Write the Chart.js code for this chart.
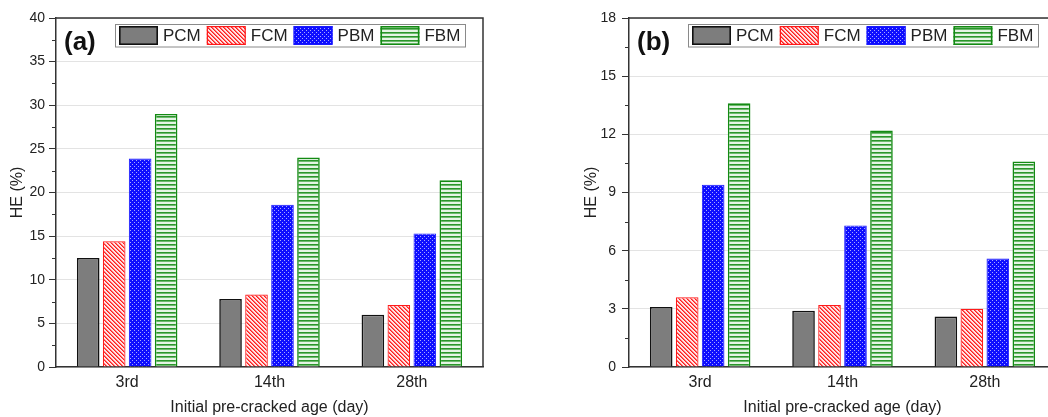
<!DOCTYPE html>
<html>
<head>
<meta charset="utf-8">
<script src="https://cdn.jsdelivr.net/npm/chart.js@4/dist/chart.umd.min.js"></script>
<style>
  html, body { margin: 0; padding: 0; background: #fff; overflow: hidden; width: 1048px; height: 417px; }
  .panel { position: absolute; top: 0; width: 500px; height: 417px; }
  #pa { left: 0; }
  #pb { left: 560px; }
</style>
</head>
<body>
<div class="panel" id="pa"><canvas id="ca" width="500" height="417"></canvas></div>
<div class="panel" id="pb"><canvas id="cb" width="500" height="417"></canvas></div>
<script>
// Categories and series
const ages = ['3rd', '14th', '28th'];
const seriesNames = ['PCM', 'FCM', 'PBM', 'FBM'];

// Panel (a) HE values (%)
const pcmA = [12.5, 7.8, 6.0];
const fcmA = [14.4, 8.3, 7.1];
const pbmA = [23.9, 18.6, 15.3];
const fbmA = [29.0, 24.0, 21.4];

// Panel (b) HE values (%)
const pcmB = [3.1, 2.9, 2.6];
const fcmB = [3.6, 3.2, 3.0];
const pbmB = [9.4, 7.3, 5.6];
const fbmB = [13.6, 12.2, 10.6];

// Axis ranges
const yMaxA = 40, yStepA = 5;
const yMaxB = 18, yStepB = 3;

const FONT = '"Liberation Sans", Arial, Helvetica, sans-serif';
const TEXT = '#222';

// Fill patterns for the hatched bars
function makePattern(w, h, paint) {
  const c = document.createElement('canvas');
  c.width = w; c.height = h;
  const g = c.getContext('2d');
  paint(g);
  return g.createPattern(c, 'repeat');
}
const redStripes = makePattern(4, 4, g => {
  g.fillStyle = '#ffe4e4'; g.fillRect(0, 0, 4, 4);
  for (let i = 0; i < 4; i++) {
    g.fillStyle = '#ff1e1e'; g.fillRect(i, i, 1, 1);
    g.fillStyle = '#ff6a6a'; g.fillRect((i + 1) % 4, i, 1, 1);
  }
});
const blueDots = makePattern(4, 4, g => {
  g.fillStyle = '#0e0eff'; g.fillRect(0, 0, 4, 4);
  g.fillStyle = '#a8a8ff';
  g.fillRect(0, 0, 1, 1); g.fillRect(2, 2, 1, 1);
});
const greenLines = makePattern(4, 4, g => {
  g.fillStyle = '#e4f4e4'; g.fillRect(0, 0, 4, 4);
  g.fillStyle = '#2a952a'; g.fillRect(0, 0, 4, 1);
  g.fillStyle = '#6cba6c'; g.fillRect(0, 1, 4, 1);
});

const styles = [
  { fill: '#7d7d7d', border: '#111111', width: 1.6 },
  { fill: redStripes, border: '#ff1a1a', width: 1.2 },
  { fill: blueDots, border: '#1a1aff', width: 1 },
  { fill: greenLines, border: '#138a13', width: 1.6 }
];

// Frame, minor ticks, boxed legend and panel letter
const decor = {
  id: 'panelDecor',
  afterDraw(chart, args, opts) {
    const ctx = chart.ctx;
    const a = chart.chartArea;
    const y = chart.scales.y;
    ctx.save();
    // top and right frame lines
    ctx.strokeStyle = '#333';
    ctx.lineWidth = 1.5;
    ctx.beginPath();
    ctx.moveTo(a.left, a.top);
    ctx.lineTo(a.right, a.top);
    ctx.lineTo(a.right, a.bottom);
    ctx.stroke();
    // minor ticks on the value axis
    ctx.lineWidth = 1;
    ctx.beginPath();
    for (let v = opts.minorStep; v < y.max; v += opts.minorStep * 2) {
      const py = Math.round(y.getPixelForValue(v)) + 0.5;
      ctx.moveTo(a.left - 4, py);
      ctx.lineTo(a.left, py);
    }
    ctx.stroke();
    // panel letter
    ctx.fillStyle = '#111';
    ctx.font = 'bold 26px ' + FONT;
    ctx.textBaseline = 'alphabetic';
    ctx.textAlign = 'left';
    ctx.fillText(opts.label, a.left + 8, 50);
    // legend box
    const bx = a.left + 59, by = 24, bw = 350, bh = 22.5;
    ctx.fillStyle = '#fff';
    ctx.fillRect(bx, by, bw, bh);
    ctx.strokeStyle = '#8a8a8a';
    ctx.lineWidth = 1;
    ctx.strokeRect(bx + 0.5, by + 0.5, bw, bh);
    ctx.font = '17px ' + FONT;
    ctx.textBaseline = 'middle';
    let cx = bx + 4;
    chart.data.datasets.forEach(ds => {
      ctx.fillStyle = ds.backgroundColor;
      ctx.fillRect(cx, by + 2, 39, 19);
      ctx.strokeStyle = ds.borderColor;
      ctx.lineWidth = ds.borderWidth;
      ctx.strokeRect(cx + ds.borderWidth / 2, by + 2 + ds.borderWidth / 2, 39 - ds.borderWidth, 19 - ds.borderWidth);
      cx += 44;
      ctx.fillStyle = TEXT;
      ctx.fillText(ds.label, cx, by + bh / 2 + 1);
      cx += ctx.measureText(ds.label).width + 6;
    });
    ctx.restore();
  }
};

function buildChart(id, series, yMax, yStep, axisWidth, labelPad, titlePad, padRight, letter) {
  return new Chart(document.getElementById(id), {
    type: 'bar',
    data: {
      labels: ages,
      datasets: seriesNames.map((name, i) => ({
        label: name,
        data: series[i],
        backgroundColor: styles[i].fill,
        borderColor: styles[i].border,
        borderWidth: styles[i].width,
        categoryPercentage: 0.73,
        barPercentage: 0.87
      }))
    },
    options: {
      responsive: false,
      animation: false,
      devicePixelRatio: 1,
      layout: { padding: { top: 18, right: padRight, bottom: 0, left: 0 } },
      plugins: {
        legend: { display: false },
        tooltip: { enabled: false },
        panelDecor: { label: letter, minorStep: yStep / 2 }
      },
      scales: {
        x: {
          grid: { display: false, drawTicks: false },
          border: { display: true, color: '#333', width: 1.5 },
          ticks: { padding: 6, color: TEXT, font: { size: 16, family: FONT } },
          title: { display: true, text: 'Initial pre-cracked age (day)', color: TEXT,
                   font: { size: 16, family: FONT }, padding: { top: 0, bottom: 0 } },
          afterFit: s => { s.height = 50; }
        },
        y: {
          min: 0,
          max: yMax,
          ticks: { stepSize: yStep, padding: labelPad, color: TEXT, font: { size: 14, family: FONT } },
          grid: { color: '#e3e3e3', tickColor: '#333', tickLength: 7, lineWidth: 1 },
          border: { color: '#333', width: 1.5 },
          title: { display: true, text: 'HE (%)', color: TEXT,
                   font: { size: 16, family: FONT }, padding: { top: titlePad, bottom: 0 } },
          afterFit: s => { s.width = axisWidth; }
        }
      }
    },
    plugins: [decor]
  });
}

buildChart('ca', [pcmA, fcmA, pbmA, fbmA], yMaxA, yStepA, 56, 4, 8, 17, '(a)');
buildChart('cb', [pcmB, fcmB, pbmB, fbmB], yMaxB, yStepB, 69, 6, 22, 4, '(b)');
</script>
</body>
</html>
